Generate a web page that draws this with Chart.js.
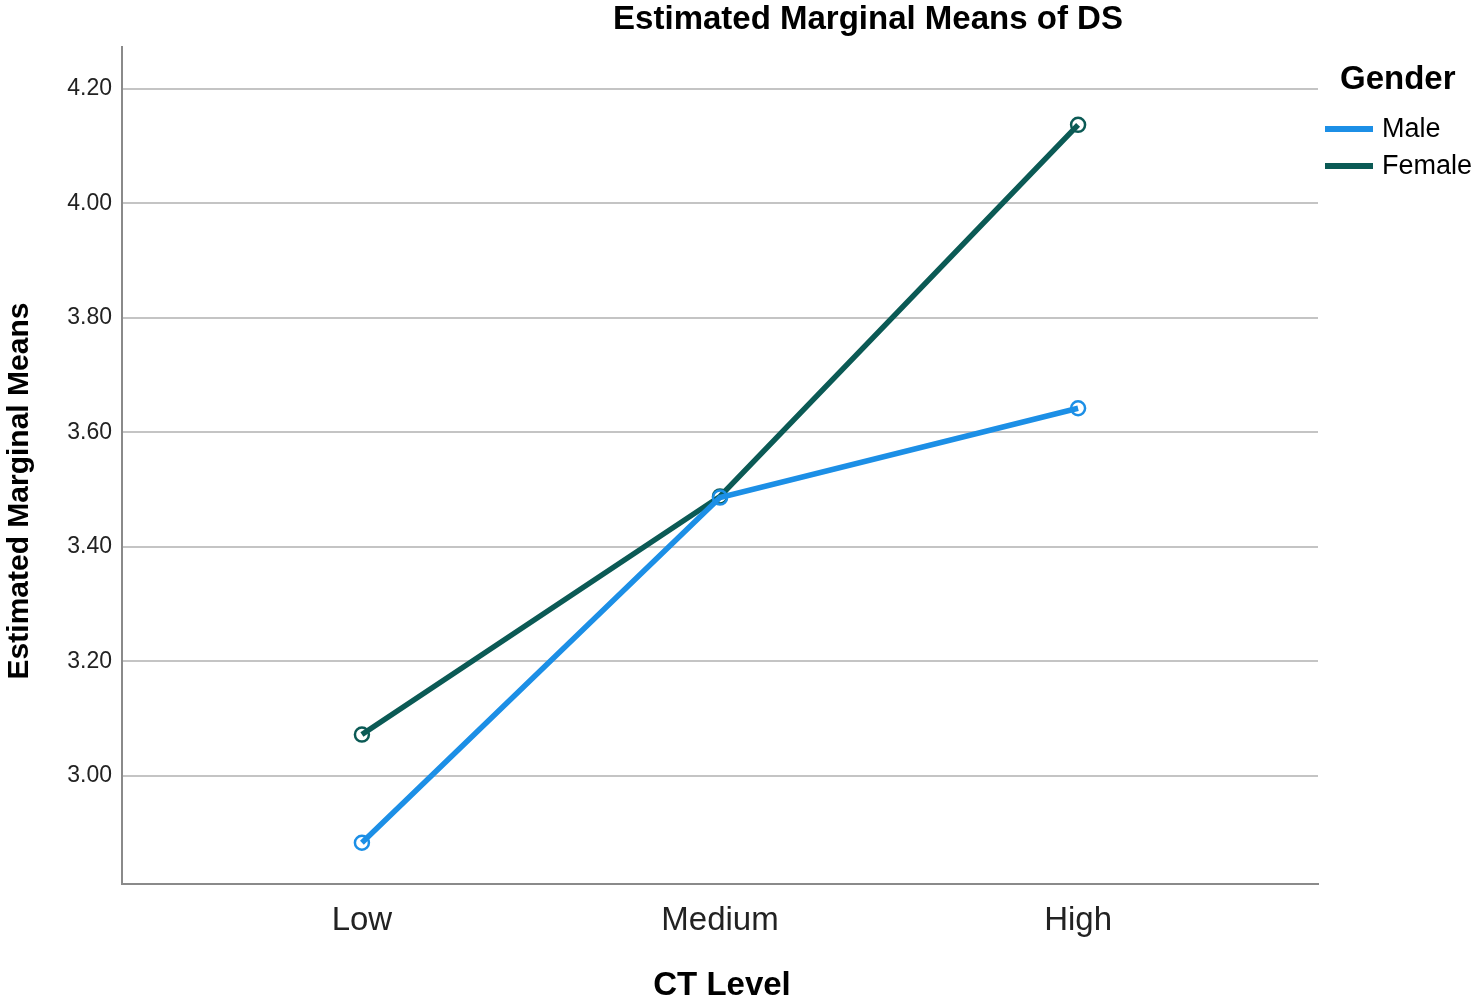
<!DOCTYPE html>
<html>
<head>
<meta charset="utf-8">
<script src="https://cdn.jsdelivr.net/npm/chart.js@4/dist/chart.umd.min.js"></script>
<style>
  html, body { margin: 0; padding: 0; background: #fff; }
  #wrap { width: 1477px; height: 1005px; }
</style>
</head>
<body>
<div id="wrap"><canvas id="chart"></canvas></div>
<script>
const categories = ['Low', 'Medium', 'High'];
const maleMeans = [2.883, 3.486, 3.642];
const femaleMeans = [3.072, 3.488, 4.137];
const yTicks = [3.00, 3.20, 3.40, 3.60, 3.80, 4.00, 4.20];

const MALE = '#1c8fe6';
const FEMALE = '#0b5a55';
const FONT = 'Arial, "Liberation Sans", sans-serif';

const toPoints = (arr) => arr.map((v, i) => ({ x: i, y: v }));

// title, axis titles and legend drawn by hand to match placement
const decorations = {
    id: 'decorations',
    afterDraw(chart) {
        const ctx = chart.ctx;
        ctx.save();
        ctx.fillStyle = '#000';
        ctx.textBaseline = 'middle';

        ctx.font = 'bold 33px ' + FONT;
        ctx.textAlign = 'center';
        ctx.fillText('Estimated Marginal Means of DS', 868, 20);

        ctx.font = 'bold 33px ' + FONT;
        ctx.fillText('CT Level', 722, 986);

        ctx.save();
        ctx.translate(20, 491);
        ctx.rotate(-Math.PI / 2);
        ctx.font = 'bold 30px ' + FONT;
        ctx.fillText('Estimated Marginal Means', 0, 0);
        ctx.restore();

        ctx.font = 'bold 33px ' + FONT;
        ctx.textAlign = 'left';
        ctx.fillText('Gender', 1340, 80);

        ctx.font = '27px ' + FONT;
        chart.data.datasets.forEach((ds, i) => {
            const y = 129 + i * 37;
            ctx.fillStyle = ds.borderColor;
            ctx.fillRect(1325, y - 3, 48, 6);
            ctx.fillStyle = '#000';
            ctx.fillText(ds.label, 1382, y + 1);
        });
        ctx.restore();
    }
};

new Chart(document.getElementById('chart'), {
    type: 'line',
    data: {
        datasets: [{
            label: 'Male',
            data: toPoints(maleMeans),
            borderColor: MALE,
            backgroundColor: 'rgba(255,255,255,0)',
            borderWidth: 5.5,
            pointRadius: 7,
            pointBorderWidth: 2.5,
            pointBackgroundColor: 'rgba(255,255,255,0)'
        }, {
            label: 'Female',
            data: toPoints(femaleMeans),
            borderColor: FEMALE,
            backgroundColor: 'rgba(255,255,255,0)',
            borderWidth: 5.5,
            pointRadius: 7,
            pointBorderWidth: 2.5,
            pointBackgroundColor: 'rgba(255,255,255,0)'
        }]
    },
    options: {
        responsive: true,
        maintainAspectRatio: false,
        animation: false,
        layout: { padding: { left: 0, top: 47, right: 159, bottom: 0 } },
        plugins: {
            legend: { display: false },
            title: { display: false },
            tooltip: { enabled: false }
        },
        scales: {
            x: {
                type: 'linear',
                min: -0.67,
                max: 2.67,
                afterBuildTicks: (axis) => { axis.ticks = categories.map((c, i) => ({ value: i })); },
                afterFit: (axis) => { axis.height = 121; },
                grid: { display: false, drawTicks: false },
                border: { display: true, color: '#8a8a8a', width: 2 },
                ticks: {
                    padding: 17,
                    color: '#222',
                    font: { family: FONT, size: 33 },
                    callback: (v) => categories[v]
                }
            },
            y: {
                min: 2.811,
                max: 4.273,
                afterBuildTicks: (axis) => { axis.ticks = yTicks.map(v => ({ value: v })); },
                afterFit: (axis) => { axis.width = 122; },
                grid: { color: '#c4c4c4', lineWidth: 2, drawTicks: false },
                border: { display: true, color: '#8a8a8a', width: 2 },
                ticks: {
                    padding: 10,
                    color: '#222',
                    font: { family: FONT, size: 23 },
                    callback: (v) => v.toFixed(2)
                }
            }
        }
    },
    plugins: [decorations]
});
</script>
</body>
</html>
